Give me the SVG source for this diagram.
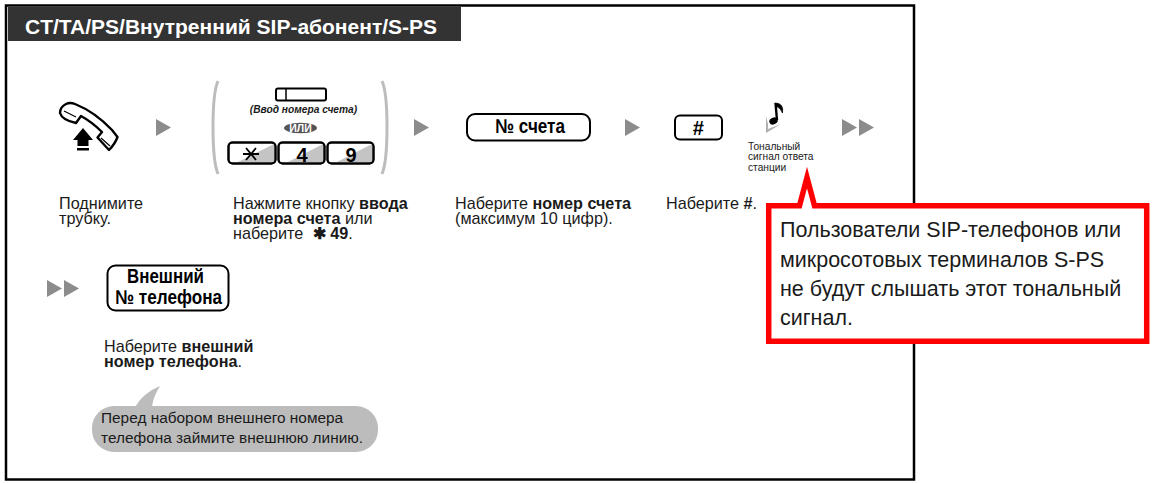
<svg xmlns="http://www.w3.org/2000/svg" width="1152" height="483" viewBox="0 0 1152 483">
<style>
text{font-family:"Liberation Sans",Arial,sans-serif;fill:#1a1a1a}
.d{font-size:16.200px}
.b{font-weight:bold}
.key{fill:#fff;stroke:#000;stroke-width:2}
.shade{fill:#c4c4c4}
.edge{fill:none;stroke:#000;stroke-width:2}
.tri{fill:#8c8c8c}
.k{font-weight:bold;fill:#000;text-anchor:middle}
.s{font-size:10.200px}
.r{font-size:21.500px}
.n{font-size:15.400px}
.paren{fill:none;stroke:#bdbdbd;stroke-width:3}
</style>
<defs>
<polygon id="t" class="tri" points="0,0 15,8.500 0,17"/>
</defs>
<g id="frame">
<rect x="6" y="5.500" width="908" height="474" fill="#fff" stroke="#000" stroke-width="2.500"/>
<rect x="8" y="7" width="453" height="34" fill="#333"/>
<text x="25" y="34" font-size="21" class="b" style="fill:#fff">CT/TA/PS/Внутренний SIP-абонент/S-PS</text>
</g>
<g id="connectors">
<use href="#t" x="156" y="119"/>
<use href="#t" x="414" y="119"/>
<use href="#t" x="625" y="119"/>
<use href="#t" x="842" y="119"/>
<use href="#t" x="859" y="119"/>
<use href="#t" x="47" y="280"/>
<use href="#t" x="64" y="280"/>
</g>
<g id="handset">
<path d="M60 113 Q60 107 66 104 Q70 102 75 104 Q95 112 112 130 L117.500 137 Q115 144 109 150 L97.500 137.500 L102 132 Q92 122 81 116 L76 123 Q62 120 60 113Z" fill="#fff" stroke="#000" stroke-width="2.400" stroke-linejoin="round"/>
<path d="M64 111 L76 117 M101 138 L110 146" fill="none" stroke="#000" stroke-width="1.200"/>
<path d="M83 128 L93 140 L88.500 140 L88.500 146 L77.500 146 L77.500 140 L73 140Z" fill="#000"/>
<rect x="77" y="148" width="12" height="2.500" fill="#000"/>
</g>
<g id="paren-group">
<path class="paren" d="M218 81 Q213 92 213 127 Q213 162 218 174"/>
<path class="paren" d="M382 81 Q387 92 387 127 Q387 162 382 174"/>
<rect x="276" y="88.500" width="50" height="12" rx="2" class="key"/>
<line x1="286" y1="88.500" x2="286" y2="100.500" stroke="#000" stroke-width="1.500"/>
<text x="303.500" y="113" font-size="10.200" class="b" font-style="italic" text-anchor="middle">(Ввод номера счета)</text>
<ellipse cx="300.500" cy="128" rx="16.500" ry="5.200" fill="#555"/>
<text x="300.500" y="131.500" font-size="10.500" class="b" text-anchor="middle" style="fill:#fff">ИЛИ</text>
</g>
<g id="key-star">
<rect x="228.500" y="142.500" width="47" height="21" rx="4" class="key"/>
<path d="M274 144 V162 H238Z" class="shade"/>
<rect x="228.500" y="142.500" width="47" height="21" rx="4" class="edge"/>
<path d="M243 154 H259 M246 148 L256 160 M256 148 L246 160" stroke="#000" stroke-width="1.800" fill="none"/>
</g>
<g id="key-4">
<rect x="278.500" y="142.500" width="46" height="21" rx="4" class="key"/>
<path d="M323 144 V162 H288Z" class="shade"/>
<rect x="278.500" y="142.500" width="46" height="21" rx="4" class="edge"/>
<text x="302" y="162" font-size="20" class="k">4</text>
</g>
<g id="key-9">
<rect x="327.500" y="142.500" width="46" height="21" rx="4" class="key"/>
<path d="M372 144 V162 H337Z" class="shade"/>
<rect x="327.500" y="142.500" width="46" height="21" rx="4" class="edge"/>
<text x="351" y="162" font-size="20" class="k">9</text>
</g>
<g id="key-account">
<rect x="467" y="114" width="123" height="26.500" rx="8" class="key"/>
<text x="530" y="133" font-size="20" class="k" textLength="70" lengthAdjust="spacingAndGlyphs">№ счета</text>
</g>
<g id="key-hash">
<rect x="675" y="115.500" width="47" height="24" rx="5" class="key"/>
<text x="698" y="135" font-size="20" text-anchor="middle" font-style="italic" font-weight="bold" style="fill:#000">#</text>
</g>
<g id="tone">
<path d="M766 116 L768 124 L768 129 L781 124 L766 133Z" fill="#b0b0b0"/>
<path d="M775.500 103 L777 120" stroke="#000" stroke-width="2.400" fill="none"/>
<ellipse cx="773.500" cy="121" rx="4.300" ry="3.300" fill="#000" transform="rotate(-25 773.500 121)"/>
<path d="M775 103 Q784 103 782.500 113 Q781 108 776 106Z" fill="#000" stroke="#000" stroke-width="0.800"/>
<text x="748" y="150" class="s">Тональный</text>
<text x="748" y="160" class="s">сигнал ответа</text>
<text x="748" y="171" class="s">станции</text>
</g>
<g id="step1">
<text x="59" y="209" class="d">Поднимите</text>
<text x="59" y="224" class="d">трубку.</text>
</g>
<g id="step2">
<text x="233" y="209" class="d">Нажмите кнопку <tspan class="b">ввода</tspan></text>
<text x="233" y="224" class="d"><tspan class="b">номера счета</tspan> или</text>
<text x="233" y="239" class="d">наберите <tspan class="b" dx="5">✱ 49</tspan>.</text>
</g>
<g id="step3">
<text x="455" y="209" class="d">Наберите <tspan class="b">номер счета</tspan></text>
<text x="455" y="224" class="d">(максимум 10 цифр).</text>
</g>
<g id="step4">
<text x="666" y="209" class="d">Наберите <tspan class="b">#</tspan>.</text>
</g>
<g id="key-external">
<rect x="107.500" y="265.500" width="121" height="45" rx="8" class="key"/>
<text x="165.500" y="283" font-size="20" class="k" textLength="77" lengthAdjust="spacingAndGlyphs">Внешний</text>
<text x="168.500" y="304" font-size="20" class="k" textLength="107" lengthAdjust="spacingAndGlyphs">№ телефона</text>
</g>
<g id="step5">
<text x="104" y="352" class="d">Наберите <tspan class="b">внешний</tspan></text>
<text x="104" y="367" class="d"><tspan class="b">номер телефона</tspan>.</text>
</g>
<g id="note">
<rect x="92" y="406" width="286" height="46" rx="22" fill="#bcbcbc"/>
<path d="M160 386 Q143 393 135 407 L152 407 Q153 397 160 386Z" fill="#bcbcbc"/>
<text x="101" y="423" class="n">Перед набором внешнего номера</text>
<text x="101" y="443" class="n">телефона займите внешнюю линию.</text>
</g>
<g id="callout">
<path d="M768.700 205.700 H799.500 L807 177.500 L814.500 205.700 H1146.700 V341.300 H768.700Z" fill="#fff" stroke="#f00" stroke-width="5.500" stroke-miterlimit="8"/>
<text x="780" y="237" class="r">Пользователи SIP-телефонов или</text>
<text x="780" y="266.500" class="r">микросотовых терминалов S-PS</text>
<text x="780" y="296" class="r">не будут слышать этот тональный</text>
<text x="780" y="325" class="r">сигнал.</text>
</g>
</svg>
